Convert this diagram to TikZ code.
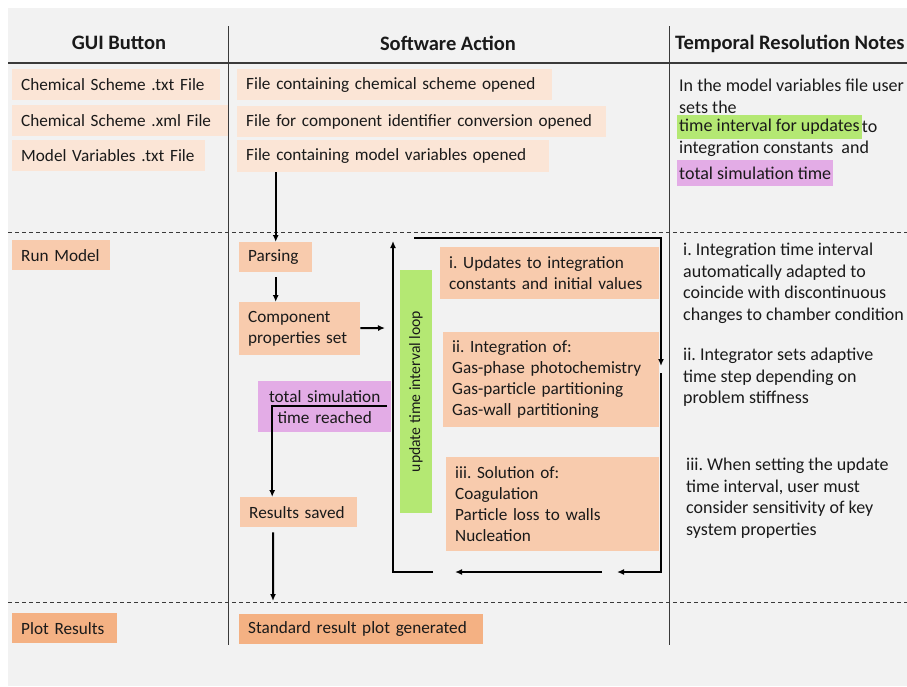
\documentclass[tikz,border=0pt]{standalone}
\usepackage{fontspec}
\setmainfont{Carlito}
\usetikzlibrary{arrows.meta}
\definecolor{bg}{HTML}{F2F2F2}
\definecolor{txt}{HTML}{1A1A1A}
\definecolor{rule}{HTML}{3A3A3A}
\definecolor{pale}{HTML}{FBE5D6}
\definecolor{peach}{HTML}{F8CBAD}
\definecolor{orng}{HTML}{F4B183}
\definecolor{lgreen}{HTML}{B4E873}
\definecolor{lpurple}{HTML}{E3ACE6}
\frenchspacing
\begin{document}
\begin{tikzpicture}[x=1pt,y=-1pt,>={Latex[length=7pt,width=6pt]}]
      \useasboundingbox (0,0) rectangle (907,686);
      \tikzset{B/.style = {anchor=north west, inner xsep=9pt, inner ysep=0pt, align=left, text=txt, font=\fontsize{17.2}{21}\selectfont}}
      \tikzset{T/.style = {anchor=west, inner sep=0pt, text=txt, font=\fontsize{18}{21}\selectfont}}
      \tikzset{N/.style = {anchor=north west, inner sep=0pt, align=left, text=txt, font=\fontsize{18}{21.5}\selectfont}}
      \tikzset{H/.style = {text=txt, font=\bfseries\fontsize{20.5}{24}\selectfont}}
      \tikzset{E/.style = {draw,line width=2pt,->}}
      \fill[bg] (8,8) rectangle (907,686);
      % table
      \draw[rule,line width=1.2pt] (8,63) -- (907,63);
      \draw[rule,line width=1pt] (228,26) -- (228,645);
      \draw[rule,line width=1pt] (669,26) -- (669,645);
      \draw[rule,line width=0.9pt,dash pattern=on 4pt off 3pt] (8,232) -- (907,232);
      \draw[rule,line width=0.9pt,dash pattern=on 4pt off 3pt] (8,602) -- (907,602);
      \node[H](h0) at (119,43) {GUI Button};
      \node[H](h1) at (448,43) {Software Action};
      \node[H,anchor=west,inner sep=0pt](h2) at (675,44) {Temporal Resolution Notes};
      % GUI buttons
      \node[B,fill=pale,text width=190,minimum height=31](g0) at (12,69) {Chemical Scheme .txt File};
      \node[B,fill=pale,text width=198,minimum height=31](g1) at (12,105) {Chemical Scheme .xml File};
      \node[B,fill=pale,text width=175,minimum height=31](g2) at (12,140) {Model Variables .txt File};
      \node[B,fill=peach,text width=80,minimum height=30](g3) at (12,240) {Run Model};
      \node[B,fill=orng,text width=87,minimum height=30](g4) at (12,613) {Plot Results};
      % software actions
      \node[B,fill=pale,text width=297,minimum height=31](m0) at (237,69) {File containing chemical scheme opened};
      \node[B,fill=pale,text width=351,minimum height=31](m1) at (237,106) {File for component identifier conversion opened};
      \node[B,fill=pale,text width=294,minimum height=32](m2) at (237,140) {File containing model variables opened};
      \node[B,fill=peach,text width=55,minimum height=30](pars) at (239,242) {Parsing};
      \node[B,fill=peach,text width=103,minimum height=53](comp) at (239,302) {Component\\properties set};
      \node[B,fill=lpurple,text width=115,minimum height=51,align=center](tsim) at (258,381) {total simulation\\time reached};
      \node[B,fill=peach,text width=99,minimum height=30](res) at (240,497) {Results saved};
      \node[B,fill=orng,text width=226,minimum height=30](plot) at (239,614) {Standard result plot generated};
      \node[fill=lgreen,rotate=90,minimum width=243,minimum height=32,inner sep=0pt,text=txt,font=\fontsize{15.7}{21}\selectfont](loop) at (416,391.5) {update time interval loop};
      \node[B,fill=peach,text width=201,minimum height=52](up0) at (440,247) {i. Updates to integration\\constants and initial values};
      \node[B,fill=peach,text width=198,minimum height=95](up1) at (443,332) {ii. Integration of:\\Gas-phase photochemistry\\Gas-particle partitioning\\Gas-wall partitioning};
      \node[B,fill=peach,text width=195,minimum height=94](up2) at (446,457) {iii. Solution of:\\Coagulation\\Particle loss to walls\\Nucleation};
      % notes
      \node[T](n0) at (679,85) {In\ the model variables file user};
      \node[T](n1) at (679,107) {sets the};
      \node[T,fill=lgreen,inner xsep=2pt,minimum height=24](n2) at (677,127) {time interval for updates};
      \node[T](n2b) at (n2.east) {to};
      \node[T](n3) at (679,149) {integration constants\ \ and};
      \node[T,fill=lpurple,inner xsep=2pt,minimum height=26](n4) at (677,173) {total simulation time};
      \node[N](n5) at (683,243) {i. Integration time interval\\automatically adapted to\\coincide with discontinuous\\changes to chamber condition};
      \node[N](n6) at (683,348) {ii. Integrator sets adaptive\\time step depending on\\problem stiffness};
      \node[N](n7) at (686,458) {iii. When setting the update\\time interval, user must\\consider sensitivity of key\\system properties};
      % flow
      \coordinate (c0) at (385,328);
      \coordinate (t0) at (387,406);
      \coordinate (r0) at (273,601);
      \coordinate (l0) at (414,238);
      \coordinate (l1) at (661,366);
      \coordinate (l2) at (661,373);
      \coordinate (l3) at (617,572);
      \coordinate (l4) at (602,572);
      \coordinate (l5) at (455,572);
      \coordinate (l6) at (433,572);
      \coordinate (l7) at (393,241);
      \draw[E](m2.south -| pars.north) to (pars.north);
      \draw[E,shorten <=5pt](pars) to (pars |- comp.north);
      \draw[E](comp) to (c0);
      \draw[E](t0) -| ([xshift=-26.5pt]res.north);
      \draw[E,shorten <=5pt]([xshift=-25.5pt]res.south) to (r0);
      \draw[E](l0) -| (l1);
      \draw[E](l2) |- (l3);
      \draw[E](l4) to (l5);
      \draw[E](l6) -| (l7);
    \end{tikzpicture}
\end{document}
